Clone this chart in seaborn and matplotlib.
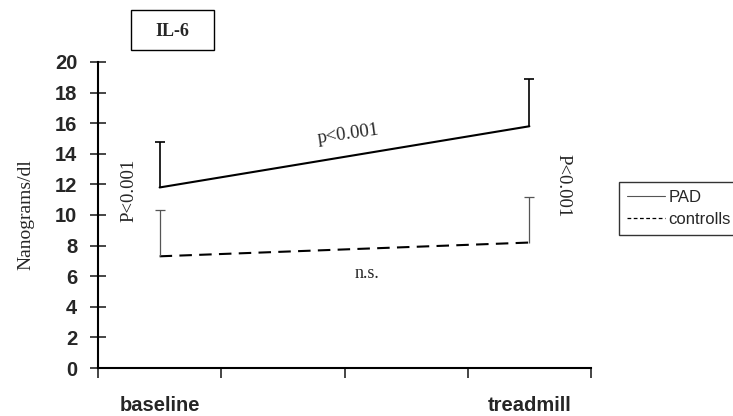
import numpy as np
import pandas as pd
import matplotlib
matplotlib.use("Agg")
import matplotlib.pyplot as plt
import seaborn as sns
from matplotlib.lines import Line2D
from matplotlib.patches import Rectangle

# data
groups = ["PAD", "controlls"]
conditions = ["baseline", "treadmill"]
cond_pos = [0, 3]          # category slots on the x axis (4 slots, middle two empty)
pad_mean = [11.8, 15.8]
pad_err = [3.0, 3.1]
ctrl_mean = [7.3, 8.2]
ctrl_err = [3.0, 3.0]
y_ticks = [0, 2, 4, 6, 8, 10, 12, 14, 16, 18, 20]

df = pd.DataFrame({
    "x": cond_pos * 2,
    "value": pad_mean + ctrl_mean,
    "group": [groups[0]] * 2 + [groups[1]] * 2,
})

sns.set_style("white")
plt.rcParams["font.family"] = ["Liberation Sans", "DejaVu Sans"]
serif = "Liberation Serif"

fig = plt.figure(figsize=(7.33, 4.16), dpi=100)
ax = fig.add_axes([98 / 733, 1 - 368 / 416, (591 - 98) / 733, (368 - 62) / 416])

sns.lineplot(data=df, x="x", y="value", hue="group", style="group",
             palette={"PAD": "black", "controlls": "black"},
             dashes={"PAD": "", "controlls": (6, 3.5)},
             linewidth=1.5, ax=ax, legend=False)

# upper-only error bars with a cap at the top
pad_top = np.array(pad_mean) + np.array(pad_err)
ctrl_top = np.array(ctrl_mean) + np.array(ctrl_err)
ax.vlines(cond_pos, pad_mean, pad_top, color="black", lw=1.2)
ax.plot(cond_pos, pad_top, ls="none", marker="_", ms=7, mew=1.2, color="black")
ax.vlines(cond_pos, ctrl_mean, ctrl_top, color="#555555", lw=0.9)
ax.plot(cond_pos, ctrl_top, ls="none", marker="_", ms=7, mew=0.9, color="#555555")

ax.set_xlim(-0.5, 3.5)
ax.set_ylim(0, 20)
ax.set_xticks([-0.5, 0.5, 1.5, 2.5, 3.5])
ax.set_xticklabels([])
for pos, lab in zip(cond_pos, conditions):
    ax.text(pos, -0.122, lab, transform=ax.get_xaxis_transform(), ha="center",
            va="center", fontsize=14.5, fontweight="bold")
ax.set_yticks(y_ticks)
ax.set_yticklabels([str(t) for t in y_ticks], fontsize=14.5, fontweight="bold")
ax.tick_params(axis="y", direction="inout", length=12, width=1.2, pad=9, left=True)
ax.tick_params(axis="x", direction="out", length=7, width=1.2, bottom=True)
for s in ["top", "right"]:
    ax.spines[s].set_visible(False)
for s in ["left", "bottom"]:
    ax.spines[s].set_linewidth(1.5)
    ax.spines[s].set_color("black")
ax.set_xlabel("")
ax.set_ylabel("Nanograms/dl", fontsize=14, family=serif, labelpad=15)

ax.text(1.53, 15.3, "p<0.001", family=serif, fontsize=13.5, rotation=8,
        ha="center", va="center")
ax.text(1.68, 6.2, "n.s.", family=serif, fontsize=13, ha="center", va="center")
ax.text(-0.25, 11.6, "P<0.001", family=serif, fontsize=13.5, rotation=90,
        ha="center", va="center")
ax.text(3.27, 11.9, "P<0.001", family=serif, fontsize=13.5, rotation=-90,
        ha="center", va="center")

# title box
fig.add_artist(Rectangle((131 / 733, 1 - 50 / 416), 83 / 733, 40 / 416,
                         transform=fig.transFigure, fc="white", ec="black", lw=1.0))
fig.text(172 / 733, 1 - 31 / 416, "IL-6", family=serif, fontsize=13,
         fontweight="bold", ha="center", va="center")

# legend
handles = [Line2D([], [], color="#555555", lw=0.8),
           Line2D([], [], color="black", lw=0.9, ls=(0, (3, 2)))]
leg = fig.legend(handles, groups, loc="upper left",
                 bbox_to_anchor=(619 / 733, 1 - 182 / 416), frameon=True,
                 fancybox=False, fontsize=12, handlelength=2.3,
                 handletextpad=0.2, borderpad=0.45, labelspacing=0.45,
                 borderaxespad=0)
leg.get_frame().set_edgecolor("black")
leg.get_frame().set_linewidth(1.0)

fig.savefig("out.png", dpi=100)
